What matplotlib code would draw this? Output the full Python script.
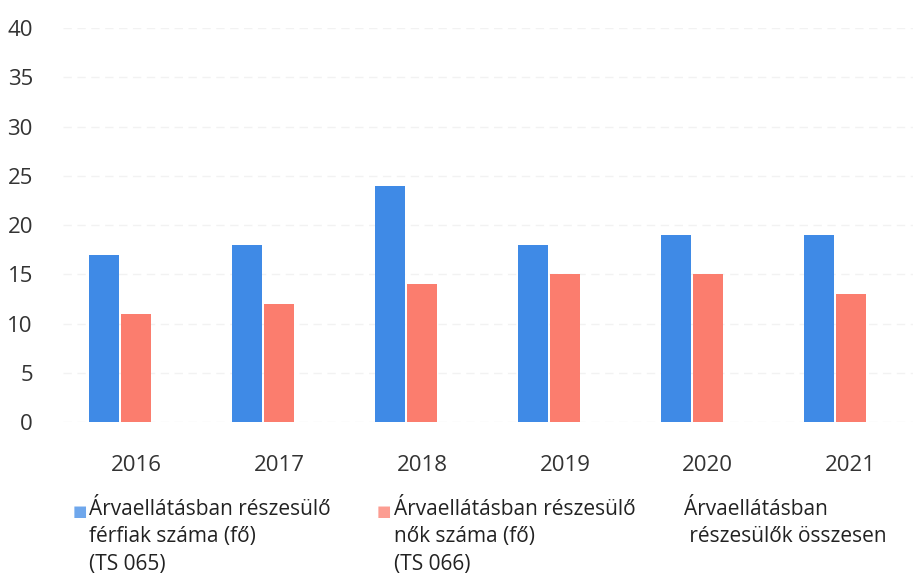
import matplotlib
matplotlib.use("Agg")
from matplotlib import pyplot as plt
import numpy as np

plt.rcParams['font.family'] = ['Open Sans', 'DejaVu Sans']

years = ['2016', '2017', '2018', '2019', '2020', '2021']
ferfiak = [17, 18, 24, 18, 19, 19]
nok = [11, 12, 14, 15, 15, 13]
osszesen = [0, 0, 0, 0, 0, 0]
labels = [
    'Árvaellátásban részesülő\nférfiak száma (fő)\n(TS 065)',
    'Árvaellátásban részesülő\nnők száma (fő)\n(TS 066)',
    'Árvaellátásban\n részesülők összesen',
]
colors = ['#3f8ae6', '#fb7d6e', '#a9c4e8']

fig = plt.figure(figsize=(9.13, 5.8), dpi=100)
ax = fig.add_axes([0.0695, 0.2724, 0.931, 0.679])

x = np.arange(len(years))
w = 0.21
ax.bar(x - 0.224, ferfiak, w, color=colors[0], zorder=2)
ax.bar(x, nok, w, color=colors[1], zorder=2)
ax.bar(x + 0.224, osszesen, w, color=colors[2], zorder=2)

ax.set_xlim(-0.51, 5.44)
ax.set_ylim(0, 40)
ax.set_yticks(range(0, 41, 5))
ax.set_xticks(x)
ax.set_xticklabels(years)
for s in ax.spines.values():
    s.set_visible(False)
ax.tick_params(length=0, labelsize=16, colors='#333333')
ax.tick_params(axis='x', pad=24)
ax.tick_params(axis='y', pad=22)
ax.yaxis.grid(True, color='#f2f2f2', linestyle=(0, (6, 4)), linewidth=1, zorder=0)
ax.set_axisbelow(True)

lx = [0.098, 0.432, 0.749]
for i in range(3):
    if i < 2:
        fig.text(lx[i] - 0.019, 0.1185, '■', color=colors[i], fontsize=11,
                 va='center', ha='left', family='DejaVu Sans', alpha=0.75)
    fig.text(lx[i], 0.14, labels[i], fontsize=15, color='#222222',
             va='top', ha='left', linespacing=1.4)

fig.savefig('out.png', dpi=100)
